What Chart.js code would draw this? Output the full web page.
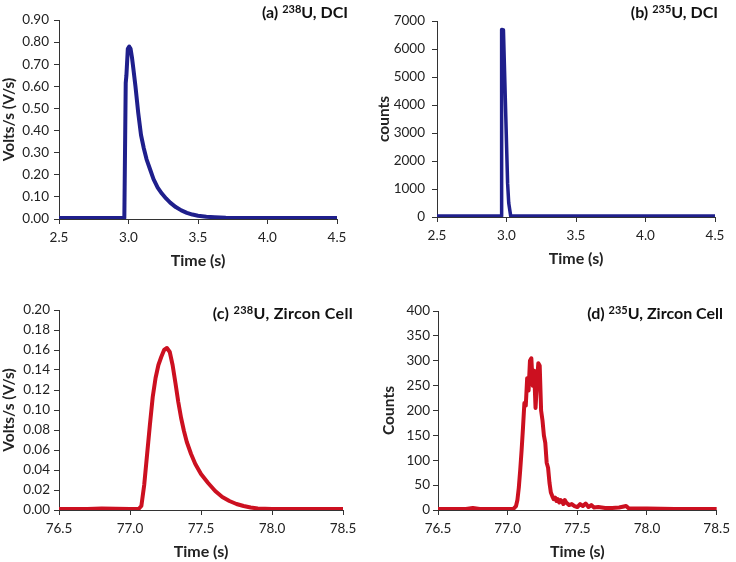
<!DOCTYPE html>
<html>
<head>
<meta charset="utf-8">
<script src="https://cdn.jsdelivr.net/npm/chart.js@4.4.1/dist/chart.umd.min.js"></script>
<style>
  html, body { margin: 0; padding: 0; background: #fff; }
  #wrap { position: relative; width: 736px; height: 562px; overflow: hidden; }
  canvas { position: absolute; }
  .ttl { position: absolute; font-family: Lato, sans-serif; font-weight: bold; font-size: 16px;
         line-height: 16px; color: #111; white-space: nowrap; text-align: right; }
  .ttl sup { font-size: 11px; line-height: 0; vertical-align: 5px; }
</style>
</head>
<body>
<div id="wrap">
  <canvas id="cA" width="368" height="281" style="left:0;top:0"></canvas>
  <canvas id="cB" width="368" height="281" style="left:368px;top:0"></canvas>
  <canvas id="cC" width="368" height="281" style="left:0;top:281px"></canvas>
  <canvas id="cD" width="368" height="281" style="left:368px;top:281px"></canvas>
  <div class="ttl" style="right:388px;top:4px">(a) <sup>238</sup>U, DCI</div>
  <div class="ttl" style="right:18px;top:4px">(b) <sup>235</sup>U, DCI</div>
  <div class="ttl" style="right:383px;top:305px;letter-spacing:0.3px">(c) <sup>238</sup>U, Zircon Cell</div>
  <div class="ttl" style="right:13px;top:305px">(d) <sup>235</sup>U, Zircon Cell</div>
</div>
<script>
// ---- Panel (a): 238U, DCI ----
const timeA  = [2.50, 2.60, 2.70, 2.80, 2.90, 2.96, 2.970, 2.980, 2.985, 2.995, 3.005, 3.015, 3.025, 3.035, 3.05, 3.07, 3.09, 3.11, 3.13, 3.155, 3.18, 3.21, 3.24, 3.27, 3.30, 3.34, 3.38, 3.42, 3.46, 3.50, 3.56, 3.62, 3.70, 3.80, 3.90, 4.00, 4.20, 4.50];
const voltsA = [0.005, 0.005, 0.005, 0.005, 0.005, 0.005, 0.005, 0.615, 0.65, 0.77, 0.78, 0.77, 0.73, 0.68, 0.60, 0.48, 0.38, 0.32, 0.27, 0.225, 0.18, 0.142, 0.115, 0.093, 0.074, 0.054, 0.039, 0.028, 0.02, 0.015, 0.01, 0.008, 0.006, 0.005, 0.005, 0.005, 0.005, 0.005];

// ---- Panel (b): 235U, DCI ----
const timeB   = [2.50, 2.70, 2.90, 2.962, 2.965, 2.978, 3.008, 3.016, 3.030, 3.10, 3.50, 4.00, 4.50];
const countsB = [40, 40, 40, 40, 6700, 6680, 1200, 500, 40, 40, 40, 40, 40];

// ---- Panel (c): 238U, Zircon Cell ----
const timeC  = [76.50, 76.70, 76.80, 77.00, 77.06, 77.08, 77.10, 77.12, 77.14, 77.16, 77.18, 77.20, 77.22, 77.24, 77.26, 77.28, 77.30, 77.32, 77.34, 77.36, 77.38, 77.40, 77.43, 77.46, 77.50, 77.55, 77.60, 77.65, 77.70, 77.75, 77.80, 77.85, 77.90, 78.00, 78.20, 78.50];
const voltsC = [0.001, 0.001, 0.0015, 0.001, 0.001, 0.004, 0.025, 0.055, 0.085, 0.113, 0.132, 0.145, 0.153, 0.160, 0.162, 0.158, 0.145, 0.127, 0.108, 0.092, 0.079, 0.068, 0.056, 0.046, 0.036, 0.027, 0.019, 0.013, 0.009, 0.006, 0.004, 0.0025, 0.0015, 0.001, 0.001, 0.001];

// ---- Panel (d): 235U, Zircon Cell ----
const timeD   = [76.50, 76.60, 76.70, 76.75, 76.80, 76.90, 77.00, 77.04, 77.06, 77.07, 77.08, 77.09, 77.10, 77.11, 77.12, 77.13, 77.14, 77.15, 77.16, 77.17, 77.18, 77.19, 77.20, 77.21, 77.22, 77.23, 77.24, 77.25, 77.26, 77.27, 77.28, 77.29, 77.30, 77.31, 77.32, 77.33, 77.34, 77.35, 77.36, 77.37, 77.38, 77.39, 77.40, 77.41, 77.42, 77.44, 77.46, 77.48, 77.50, 77.52, 77.54, 77.56, 77.58, 77.60, 77.62, 77.65, 77.70, 77.75, 77.80, 77.85, 77.87, 77.90, 78.00, 78.20, 78.50];
const countsD = [2, 2, 2, 4, 2, 2, 2, 2, 8, 20, 45, 80, 120, 165, 215, 210, 265, 240, 300, 305, 250, 280, 205, 255, 295, 290, 200, 180, 150, 135, 95, 85, 55, 35, 28, 22, 25, 18, 22, 15, 20, 18, 12, 20, 15, 10, 12, 8, 6, 12, 8, 13, 6, 10, 5, 6, 4, 4, 5, 8, 3, 3, 3, 2, 2];

const NAVY = '#1f1f8c';
const RED  = '#cc1020';
const AXIS = '#333333';
const FONT = 'Lato, "Open Sans", sans-serif';

function pts(xs, ys) { return xs.map((x, i) => ({ x: x, y: ys[i] })); }

function makeChart(id, xs, ys, o) {
  new Chart(document.getElementById(id), {
    type: 'line',
    data: { datasets: [{ data: pts(xs, ys), borderColor: o.color, borderWidth: o.lw || 4,
      pointRadius: 0, tension: 0, fill: false, borderJoinStyle: 'round', borderCapStyle: 'round' }] },
    options: {
      responsive: false, animation: false, events: [],
      layout: { padding: { left: 0, right: o.padR, top: o.padT, bottom: 0 } },
      plugins: { legend: { display: false }, tooltip: { enabled: false }, title: { display: false } },
      scales: {
        x: {
          type: 'linear', min: o.xmin, max: o.xmax,
          afterFit: s => { s.height = o.xH; },
          ticks: { stepSize: 0.5, padding: 6, color: '#222', font: { family: FONT, size: 13.5 },
                   callback: v => Number(v).toFixed(1), maxRotation: 0 },
          grid: { drawOnChartArea: false, drawTicks: true, tickLength: 5, color: AXIS },
          border: { display: true, color: AXIS, width: 1 },
          title: { display: true, text: 'Time (s)', color: '#222',
                   font: { family: FONT, size: 16, weight: 'bold' }, padding: { top: 0, bottom: o.xTitlePad } }
        },
        y: {
          type: 'linear', min: o.ymin, max: o.ymax,
          afterFit: s => { s.width = o.yW; },
          ticks: { stepSize: o.ystep, padding: o.yTickPad, color: '#222', font: { family: FONT, size: 13.5 },
                   callback: v => Number(v).toFixed(o.ydec) },
          grid: { drawOnChartArea: false, drawTicks: true, tickLength: 5, color: AXIS },
          border: { display: true, color: AXIS, width: 1 },
          title: { display: true, text: o.yTitle, color: '#222',
                   font: { family: FONT, size: 15.5, weight: 'bold' }, padding: { top: o.yTitlePad, bottom: 0 } }
        }
      }
    }
  });
}

makeChart('cA', timeA, voltsA, { color: NAVY, xmin: 2.5, xmax: 4.5, ymin: 0, ymax: 0.9, ystep: 0.1, ydec: 2,
  yTitle: 'Volts/s (V/s)', yW: 59, xH: 62, padR: 31, padT: 20, yTickPad: 5, yTitlePad: 0, xTitlePad: 11 });
makeChart('cB', timeB, countsB, { color: NAVY, lw: 3.5, xmin: 2.5, xmax: 4.5, ymin: 0, ymax: 7000, ystep: 1000, ydec: 0,
  yTitle: 'counts', yW: 69, xH: 64, padR: 21, padT: 21, yTickPad: 7, yTitlePad: 7, xTitlePad: 13 });
makeChart('cC', timeC, voltsC, { color: RED, xmin: 76.5, xmax: 78.5, ymin: 0, ymax: 0.2, ystep: 0.02, ydec: 2,
  yTitle: 'Volts/s (V/s)', yW: 59, xH: 52, padR: 25, padT: 29, yTickPad: 4, yTitlePad: 0, xTitlePad: 1 });
makeChart('cD', timeD, countsD, { color: RED, xmin: 76.5, xmax: 78.5, ymin: 0, ymax: 400, ystep: 50, ydec: 0,
  yTitle: 'Counts', yW: 70, xH: 52, padR: 14, padT: 30, yTickPad: 3, yTitlePad: 12, xTitlePad: 1 });
</script>
</body>
</html>
